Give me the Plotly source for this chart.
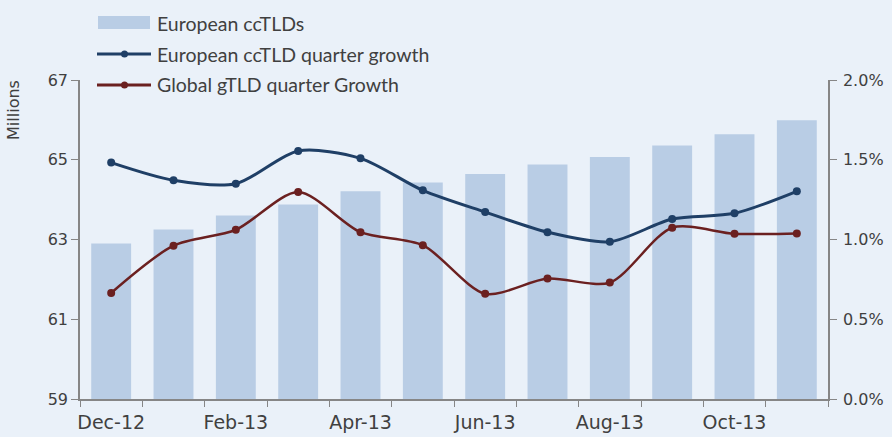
import plotly.graph_objects as go

categories = ["Dec-12", "Jan-13", "Feb-13", "Mar-13", "Apr-13", "May-13",
              "Jun-13", "Jul-13", "Aug-13", "Sep-13", "Oct-13", "Nov-13"]
cctld_millions = [62.90, 63.25, 63.60, 63.88, 64.21, 64.43,
                  64.64, 64.88, 65.07, 65.36, 65.64, 65.99]
cctld_growth = [0.01482, 0.01371, 0.01350, 0.01555, 0.01509, 0.01308,
                0.01172, 0.01046, 0.00986, 0.01128, 0.01164, 0.01302]
gtld_growth = [0.00665, 0.00961, 0.01061, 0.01298, 0.01046, 0.00964,
               0.00660, 0.00755, 0.00730, 0.01074, 0.01036, 0.01038]
tick_text = [c if i % 2 == 0 else "" for i, c in enumerate(categories)]

BG = "#EAF1F9"
BAR = "#B9CDE5"
BLUE = "#1F3F66"
RED = "#6B2020"
TXT = "#404040"
AX = "#868686"
XTICKFONT = dict(family="DejaVu Sans", size=19, color=TXT)
YTICKFONT = dict(family="DejaVu Sans", size=16, color=TXT)
LEGFONT = dict(family="Lato, sans-serif", size=19.5, color=TXT)

fig = go.Figure()
fig.add_trace(go.Bar(x=categories, y=cctld_millions, marker_color=BAR,
                     marker_line_width=0, name="European ccTLDs", yaxis="y"))
fig.add_trace(go.Scatter(x=categories, y=cctld_growth, mode="lines+markers",
                         line=dict(color=BLUE, width=3, shape="spline", smoothing=0.8),
                         marker=dict(size=8, color=BLUE),
                         name="European ccTLD quarter growth", yaxis="y2"))
fig.add_trace(go.Scatter(x=categories, y=gtld_growth, mode="lines+markers",
                         line=dict(color=RED, width=2.5, shape="spline", smoothing=0.8),
                         marker=dict(size=8, color=RED),
                         name="Global gTLD quarter Growth", yaxis="y2"))

fig.update_layout(
    width=892, height=437,
    margin=dict(l=80, r=64, t=80, b=38),
    paper_bgcolor=BG, plot_bgcolor=BG,
    showlegend=False, bargap=0.36,
    xaxis=dict(type="category", tickmode="array", tickvals=categories, ticktext=tick_text,
               tickson="boundaries", ticks="outside", ticklen=6, tickcolor=AX,
               showline=True, linecolor=AX, linewidth=1.5, showgrid=False,
               tickfont=XTICKFONT, tickangle=0, automargin=False, range=[-0.5, 11.5],
               ticklabelstandoff=5),
    yaxis=dict(range=[59, 67], dtick=2, tick0=59, ticks="outside", ticklen=7, tickcolor=AX,
               showline=True, linecolor=AX, linewidth=1.5, showgrid=False, zeroline=False,
               tickfont=YTICKFONT, automargin=False),
    yaxis2=dict(range=[0, 0.02], dtick=0.005, tickformat=".1%", overlaying="y", side="right",
                ticks="outside", ticklen=7, tickcolor=AX, showline=True, linecolor=AX,
                linewidth=1.5, showgrid=False, zeroline=False, tickfont=YTICKFONT,
                automargin=False, ticklabelstandoff=3),
)

# Millions label
fig.add_annotation(text="Millions", xref="paper", yref="paper", x=-0.088, y=1.007,
                   xanchor="center", yanchor="top", textangle=-90, showarrow=False,
                   font=dict(family="DejaVu Sans", size=16, color=TXT))

# Legend drawn manually (paper coords computed from pixel positions)
W = 892 - 80 - 64
H = 437 - 80 - 38
def px(x):
    return (x - 80) / W
def py(y):
    return (437 - 38 - y) / H

fig.add_shape(type="rect", xref="paper", yref="paper", x0=px(98), x1=px(150),
              y0=py(29), y1=py(16), fillcolor=BAR, line_width=0)
for yy, col in [(54, BLUE), (85, RED)]:
    fig.add_shape(type="line", xref="paper", yref="paper", x0=px(97), x1=px(151),
                  y0=py(yy), y1=py(yy), line=dict(color=col, width=3))
    fig.add_shape(type="circle", xref="paper", yref="paper", x0=px(121), x1=px(128),
                  y0=py(yy + 3.5), y1=py(yy - 3.5), fillcolor=col, line_width=0)
for yy, label in [(23, "European ccTLDs"), (54, "European ccTLD quarter growth"),
                  (85, "Global gTLD quarter Growth")]:
    fig.add_annotation(text=label, xref="paper", yref="paper", x=px(155), y=py(yy),
                       xanchor="left", yanchor="middle", showarrow=False, font=LEGFONT)

fig.write_html("out.html", config={"displayModeBar": False},
               post_script="document.body.style.margin='0';"
                           "document.body.style.background='" + BG + "';")
